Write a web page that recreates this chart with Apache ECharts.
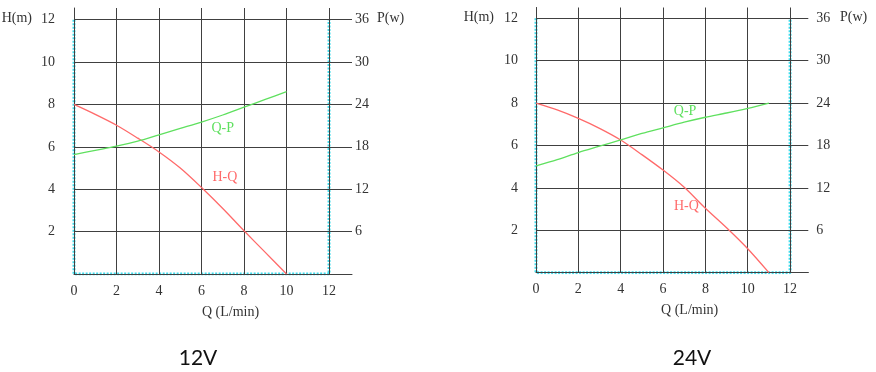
<!DOCTYPE html>
<html>
<head>
<meta charset="utf-8">
<script src="https://cdn.jsdelivr.net/npm/echarts@6/dist/echarts.min.js"></script>
<style>
html,body{margin:0;padding:0;background:#fff;}
#chart{width:876px;height:372px;}
</style>
</head>
<body>
<div id="chart"></div>
<script>
// ---- data ----
const qLeft  = [0, 1, 2, 3, 4, 5, 6, 7, 8, 9, 10];
const hLeft  = [8.0, 7.53, 7.02, 6.41, 5.76, 5.0, 4.08, 3.09, 2.04, 1.02, 0];
const pLeft  = [16.9, 17.5, 18.1, 18.8, 19.7, 20.6, 21.5, 22.5, 23.6, 24.7, 25.8];

const qRight = [0, 1, 2, 3, 4, 5, 6, 7, 8, 9, 10, 11];
const hRight = [8.0, 7.68, 7.28, 6.81, 6.26, 5.57, 4.84, 4.03, 3.04, 2.12, 1.13, 0];
const pRight = [15.1, 16.0, 17.0, 17.9, 18.8, 19.7, 20.5, 21.3, 22.0, 22.6, 23.25, 24.0];

const xTicks = [0, 2, 4, 6, 8, 10, 12];
const hTicks = [2, 4, 6, 8, 10, 12];
const pTicks = [6, 12, 18, 24, 30, 36];
const chartTitles = ['12V', '24V'];
const seriesNames = ['H-Q', 'Q-P'];
// curve label anchors (data coordinates: [Q, value on own axis])
const labelLeftHQ  = [7.1, 4.58];
const labelLeftQP  = [7.0, 20.6];
const labelRightHQ = [7.1, 3.11];
const labelRightQP = [7.04, 22.8];
// cyan frame of the 0..12 box (Q, H)
const framePath = [[0, 12], [0, 0], [12, 0], [12, 12]];

const FONT = 'Liberation Serif';
const TXT = '#333';
const GRIDC = '#404040';
const RED = '#ff6a6a';
const GREEN = '#5fe05f';

function pairs(xs, ys) { return xs.map((x, i) => [x, ys[i]]); }

function xAxisDef(gridIndex, max) {
  return {
    type: 'value', gridIndex, min: 0, max, interval: 2, z: 3,
    name: 'Q (L/min)', nameLocation: 'middle', nameGap: 31,
    nameTextStyle: { fontFamily: FONT, fontSize: 14, color: TXT, padding: [0, 0, 0, 35] },
    axisLine: { show: true, lineStyle: { color: GRIDC, width: 1 } },
    axisTick: { show: false },
    axisLabel: {
      fontFamily: FONT, fontSize: 14, color: TXT, margin: 10,
      showMaxLabel: false,
      formatter: v => (xTicks.indexOf(v) >= 0 ? String(v) : '')
    },
    splitLine: { show: true, showMaxLine: false, lineStyle: { color: GRIDC, width: 1 } }
  };
}
function hAxisDef(gridIndex, max, margin) {
  return {
    type: 'value', gridIndex, min: 0, max, interval: 2, position: 'left', z: 3,
    axisLine: { show: true, lineStyle: { color: GRIDC, width: 1 } },
    axisTick: { show: false },
    axisLabel: {
      fontFamily: FONT, fontSize: 14, color: TXT, margin,
      showMinLabel: false, showMaxLabel: false,
      formatter: v => (hTicks.indexOf(v) >= 0 ? String(v) : '')
    },
    splitLine: { show: true, showMaxLine: false, lineStyle: { color: GRIDC, width: 1 } }
  };
}
function pAxisDef(gridIndex, max, margin) {
  return {
    type: 'value', gridIndex, min: 0, max, interval: 6, position: 'right', z: 3,
    axisLine: { show: false },
    axisTick: { show: false },
    axisLabel: {
      fontFamily: FONT, fontSize: 14, color: TXT, margin,
      showMinLabel: false, showMaxLabel: false,
      formatter: v => (pTicks.indexOf(v) >= 0 ? String(v) : '')
    },
    splitLine: { show: false }
  };
}
function markLabel(coord, text, color) {
  return {
    symbol: 'circle', symbolSize: 1, silent: true,
    itemStyle: { color: 'rgba(0,0,0,0)' },
    label: { show: true, position: 'inside', formatter: text, color, fontFamily: FONT, fontSize: 14 },
    data: [{ coord }]
  };
}
function frame(xi, yi) {
  return {
    name: 'frame', type: 'line', xAxisIndex: xi, yAxisIndex: yi, data: framePath,
    showSymbol: false, symbol: 'none', silent: true, z: 1,
    lineStyle: { color: '#3fdcec', width: 3, type: [2, 1.5] },
    emphasis: { disabled: true }
  };
}
function curve(name, xi, yi, data, color, lbl) {
  return {
    name, type: 'line', xAxisIndex: xi, yAxisIndex: yi, data,
    smooth: 0.3, showSymbol: false, symbol: 'none',
    lineStyle: { color, width: 1.3 }, itemStyle: { color },
    emphasis: { disabled: true },
    markPoint: markLabel(lbl, name, color),
    z: 4
  };
}

const option = {
  animation: false,
  backgroundColor: '#fff',
  grid: [
    { left: 74, top: 8, width: 278, height: 266 },
    { left: 536, top: 7.5, width: 272.3, height: 265.2 }
  ],
  xAxis: [xAxisDef(0, 13.08), xAxisDef(1, 12.86)],
  yAxis: [
    hAxisDef(0, 12.55, 19), pAxisDef(0, 37.64, 3),
    hAxisDef(1, 12.51, 18), pAxisDef(1, 37.53, 8)
  ],
  series: [
    frame(0, 0),
    frame(1, 2),
    curve(seriesNames[0], 0, 0, pairs(qLeft, hLeft), RED, labelLeftHQ),
    curve(seriesNames[1], 0, 1, pairs(qLeft, pLeft), GREEN, labelLeftQP),
    curve(seriesNames[0], 1, 2, pairs(qRight, hRight), RED, labelRightHQ),
    curve(seriesNames[1], 1, 3, pairs(qRight, pRight), GREEN, labelRightQP)
  ],
  graphic: [
    { type: 'text', x: 32, y: 18, style: { text: 'H(m)', fill: TXT, font: '14px "' + FONT + '"', textAlign: 'right', textVerticalAlign: 'middle' } },
    { type: 'text', x: 377, y: 18.5, style: { text: 'P(w)', fill: TXT, font: '14px "' + FONT + '"', textAlign: 'left', textVerticalAlign: 'middle' } },
    { type: 'text', x: 494, y: 17, style: { text: 'H(m)', fill: TXT, font: '14px "' + FONT + '"', textAlign: 'right', textVerticalAlign: 'middle' } },
    { type: 'text', x: 840, y: 17.5, style: { text: 'P(w)', fill: TXT, font: '14px "' + FONT + '"', textAlign: 'left', textVerticalAlign: 'middle' } },
    { type: 'text', x: 198, y: 358, style: { text: chartTitles[0], fill: '#111', font: '21px Lato', textAlign: 'center', textVerticalAlign: 'middle' } },
    { type: 'text', x: 692, y: 358, style: { text: chartTitles[1], fill: '#111', font: '21px Lato', textAlign: 'center', textVerticalAlign: 'middle' } }
  ]
};

const chart = echarts.init(document.getElementById('chart'), null, { renderer: 'canvas' });
chart.setOption(option);
</script>
</body>
</html>
